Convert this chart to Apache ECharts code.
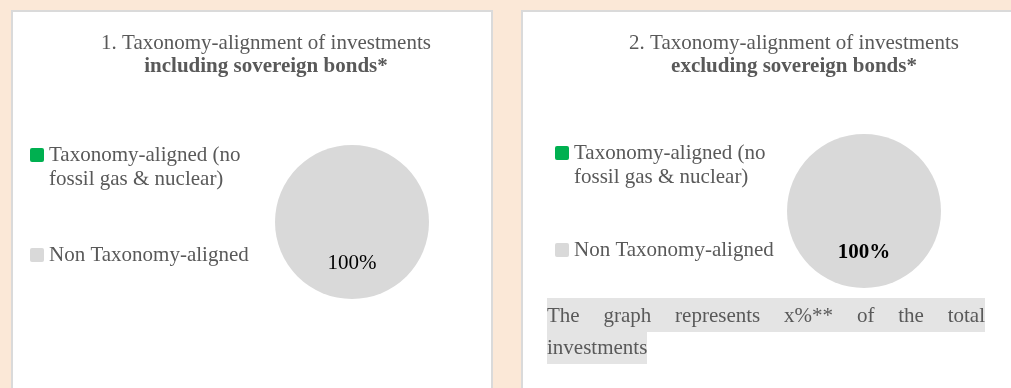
<!DOCTYPE html>
<html>
<head>
<meta charset="utf-8">
<script src="https://cdn.jsdelivr.net/npm/echarts@6/dist/echarts.min.js"></script>
<style>
  html, body { margin: 0; padding: 0; }
  body { width: 1011px; height: 388px; background: #FBE8D7; overflow: hidden; position: relative; font-family: "Liberation Serif", serif; }
  .panel { position: absolute; top: 10px; background: #fff; border: 2px solid #DADADA; box-sizing: border-box; }
  #p1 { left: 11px; width: 482px; height: 400px; }
  #p2 { left: 521px; width: 520px; height: 400px; }
  .chart { position: absolute; left: 0; top: 0; width: 100%; height: 100%; }
  .note { position: absolute; left: 24px; top: 287px; width: 438px; margin: 0; font-size: 21px; line-height: 32px; color: #595959; }
  .note div { text-align: left; }
  .note div.full { text-align: justify; text-align-last: justify; }
  .note span { background: #E4E4E4; padding: 5px 0; }
</style>
</head>
<body>
<div class="panel" id="p1"><div class="chart" id="c1"></div></div>
<div class="panel" id="p2"><div class="chart" id="c2"></div>
  <div class="note" id="note"></div>
</div>
<script>
// Pie categories and shares (percent of investments)
const categories = ['Taxonomy-aligned (no fossil gas & nuclear)', 'Non Taxonomy-aligned'];
const colors = ['#00B050', '#D9D9D9'];
const valuesIncl = [0, 100];
const valuesExcl = [0, 100];

const titleIncl = ['1. Taxonomy-alignment of investments', 'including sovereign bonds*'];
const titleExcl = ['2. Taxonomy-alignment of investments', 'excluding sovereign bonds*'];
// Footnote under the second pie, one entry per printed line
const noteLines = ['The graph represents x%** of the total', 'investments'];

const note = document.getElementById('note');
noteLines.forEach((line, i) => {
  const row = document.createElement('div');
  if (i < noteLines.length - 1) row.className = 'full';
  const span = document.createElement('span');
  span.textContent = line;
  row.appendChild(span);
  note.appendChild(row);
});

const FONT = 'Liberation Serif';
const legendRich = {
  t: { fontFamily: FONT, fontSize: 21, lineHeight: 24, color: '#595959', fontWeight: 'normal' }
};

// Legend text: the icon sits level with the first printed line, so a
// blank leading line keeps the two-line label centred on that line.
function legendLabel(name) {
  if (name.indexOf(' fossil') < 0) return '{t|' + name + '}';
  const parts = name.replace(' fossil', '\nfossil').split('\n');
  return ['{t| }'].concat(parts.map(p => '{t|' + p + '}')).join('\n');
}

function buildOption(values, title, cfg) {
  const data = categories.map((c, i) => ({ name: c, value: values[i], itemStyle: { color: colors[i] } }));
  const legendBase = {
    orient: 'vertical',
    left: cfg.legendLeft,
    padding: 0,
    icon: 'path://M2,0 L12,0 Q14,0 14,2 L14,12 Q14,14 12,14 L2,14 Q0,14 0,12 L0,2 Q0,0 2,0 Z',
    itemWidth: 14,
    itemHeight: 14,
    selectedMode: false,
    formatter: legendLabel,
    textStyle: { fontFamily: FONT, fontSize: 21, lineHeight: 24, color: '#595959', fontWeight: 'normal', rich: legendRich }
  };
  return {
    animation: false,
    textStyle: { fontFamily: FONT },
    title: {
      text: '{a|' + title[0] + '}\n{b|' + title[1] + '}',
      left: cfg.titleX,
      top: 20,
      textAlign: 'center',
      padding: 0,
      textStyle: {
        fontFamily: FONT,
        fontWeight: 'normal',
        rich: {
          a: { fontFamily: FONT, fontSize: 21, lineHeight: 23, color: '#595959', fontWeight: 'normal' },
          b: { fontFamily: FONT, fontSize: 21, lineHeight: 23, color: '#595959', fontWeight: 'bold' }
        }
      }
    },
    legend: [
      Object.assign({}, legendBase, { top: cfg.legendTop1, data: [categories[0]] }),
      Object.assign({}, legendBase, { top: cfg.legendTop2, data: [categories[1]] })
    ],
    series: [{
      type: 'pie',
      center: cfg.center,
      radius: 77,
      startAngle: 90,
      percentPrecision: 0,
      silent: true,
      data: data,
      label: {
        show: true,
        position: 'inside',
        formatter: p => (p.value > 0 ? p.percent + '%' : ''),
        fontFamily: FONT,
        fontSize: 21,
        fontWeight: cfg.labelWeight,
        color: '#000'
      },
      labelLine: { show: false },
      emphasis: { disabled: true }
    }]
  };
}

const c1 = echarts.init(document.getElementById('c1'));
c1.setOption(buildOption(valuesIncl, titleIncl, {
  titleX: 253, center: [339, 210], legendLeft: 17,
  legendTop1: 107, legendTop2: 231, labelWeight: 'normal'
}));

const c2 = echarts.init(document.getElementById('c2'));
c2.setOption(buildOption(valuesExcl, titleExcl, {
  titleX: 271, center: [341, 199], legendLeft: 32,
  legendTop1: 105, legendTop2: 226, labelWeight: 'bold'
}));
</script>
</body>
</html>
